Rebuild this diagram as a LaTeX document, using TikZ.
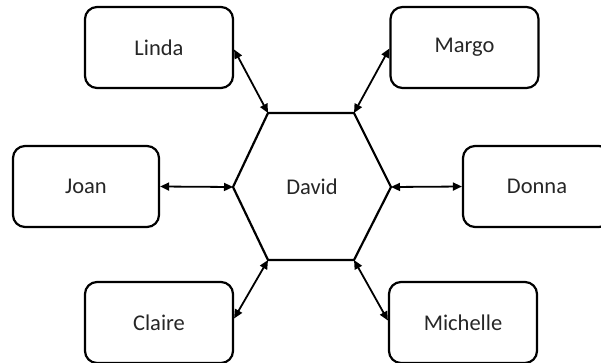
\documentclass[tikz,border=0pt]{standalone}
\usepackage{fontspec}
\setmainfont{Carlito}
\usetikzlibrary{arrows.meta}
\tikzset{
  label font/.style={font=\fontsize{22.5pt}{26pt}\selectfont, text=black!85},
  person/.style={draw=black, line width=2.2pt, rounded corners=12pt,
    minimum width=148pt, minimum height=81pt, inner sep=0pt, label font},
  hexline/.style={draw=black, line width=2.2pt, line join=miter},
  link/.style={draw=black, line width=1.8pt,
    {Triangle[length=9pt,width=8pt]}-{Triangle[length=9pt,width=8pt]}}
}
\begin{document}
\begin{tikzpicture}[x=1pt,y=-1pt]
  \useasboundingbox (0,0) rectangle (601,362);
  \clip (0,0) rectangle (601,362);
  % hexagon corners
  \coordinate (tl) at (268,113);
  \coordinate (tr) at (354,113);
  \coordinate (rr) at (391,187);
  \coordinate (br) at (354,260);
  \coordinate (bl) at (268,260);
  \coordinate (ll) at (233,187);
  \draw[hexline] (tl) -- (tr) -- (rr) -- (br) -- (bl) -- (ll) -- cycle;
  \node[label font] (david) at (312,187) {David};
  % surrounding people
  \node[person] (linda)    at (159,47.5)  {Linda};
  \node[person] (margo)    at (464.5,47.5) {Margo};
  \node[person, minimum width=146pt] (joan) at (86,186.5) {Joan};
  \node[person] (donna)    at (537,186.5) {Donna};
  \node[person] (claire)   at (159,322.5) {Claire};
  \node[person] (michelle) at (463,322.5) {Michelle};
  % links to the hub
  \draw[link] ([yshift=-2pt]linda.east) -- (tl);
  \draw[link] ([yshift=-1pt]margo.west) -- (tr);
  \draw[link] (joan.east) -- (ll);
  \draw[link] (rr) -- (donna.west);
  \draw[link] ([yshift=4pt]claire.east) -- (bl);
  \draw[link] (br) -- ([yshift=2pt]michelle.west);
\end{tikzpicture}
\end{document}
